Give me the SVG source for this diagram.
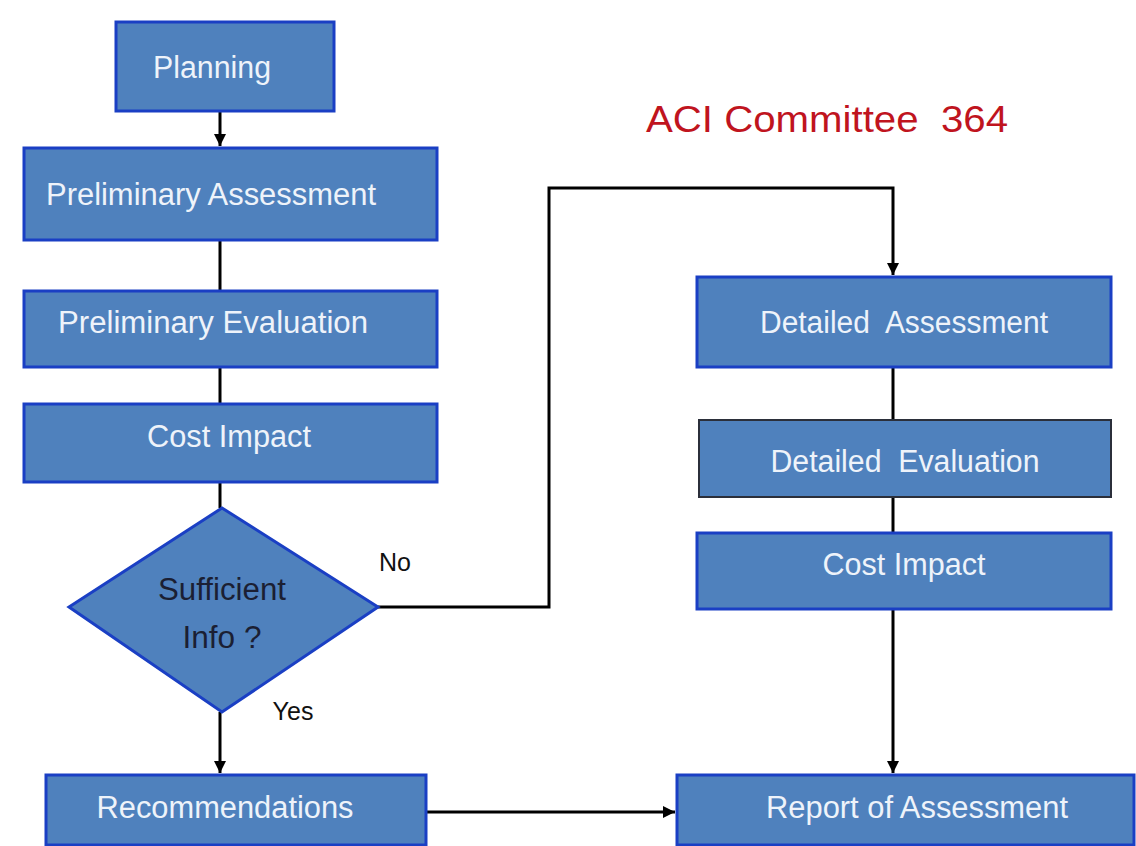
<svg xmlns="http://www.w3.org/2000/svg" width="1136" height="846" viewBox="0 0 1136 846">
<defs>
<marker id="ah" viewBox="0 0 10 10" refX="10" refY="5" markerWidth="4" markerHeight="4" orient="auto" markerUnits="strokeWidth">
<path d="M0,0 L10,5 L0,10 z" fill="#000"/>
</marker>
<style>
text{white-space:pre}
.box{fill:#4f81bd;stroke:#1a3fc4;stroke-width:3}
.boxd{fill:#4f81bd;stroke:#2b2f3a;stroke-width:2}
.t{font-family:"Liberation Sans Narrow","Liberation Sans",Arial,sans-serif;font-size:31px;fill:#eef3fa;text-anchor:middle}
.td{font-family:"Liberation Sans Narrow","Liberation Sans",Arial,sans-serif;font-size:31px;fill:#1b1f33;text-anchor:middle}
.lbl{font-family:"Liberation Sans Narrow","Liberation Sans",Arial,sans-serif;font-size:25px;fill:#111;text-anchor:middle}
.c{fill:none;stroke:#000;stroke-width:3}
.title{font-family:"Liberation Sans",Arial,sans-serif;font-size:36px;fill:#c0141e;text-anchor:middle}
</style>
</defs>
<rect width="1136" height="846" fill="#fff"/>
<text class="title" x="827" y="132" textLength="362" lengthAdjust="spacingAndGlyphs">ACI Committee  364</text>
<g id="connectors">
<path class="c" d="M220,111 V146" marker-end="url(#ah)"/>
<path class="c" d="M220,240 V291"/>
<path class="c" d="M220,367 V404"/>
<path class="c" d="M220,482 V508"/>
<path class="c" d="M220,712 V773" marker-end="url(#ah)"/>
<path class="c" d="M426,812 H675" marker-end="url(#ah)"/>
<path class="c" d="M378,607 H549 V188 H893 V275" marker-end="url(#ah)"/>
<path class="c" d="M893,367 V420"/>
<path class="c" d="M893,497 V533"/>
<path class="c" d="M893,609 V773" marker-end="url(#ah)"/>
</g>
<g id="planning"><rect class="box" x="116" y="22" width="218" height="89"/><text class="t" x="212" y="78" textLength="118" lengthAdjust="spacingAndGlyphs">Planning</text></g>
<g id="prelim-assessment"><rect class="box" x="24" y="148" width="413" height="92"/><text class="t" x="211" y="205" textLength="330" lengthAdjust="spacingAndGlyphs">Preliminary Assessment</text></g>
<g id="prelim-evaluation"><rect class="box" x="24" y="291" width="413" height="76"/><text class="t" x="213" y="333" textLength="310" lengthAdjust="spacingAndGlyphs">Preliminary Evaluation</text></g>
<g id="cost-impact-left"><rect class="box" x="24" y="404" width="413" height="78"/><text class="t" x="229" y="447" textLength="164" lengthAdjust="spacingAndGlyphs">Cost Impact</text></g>
<g id="decision"><polygon class="box" points="222,508 378,607 222,712 69,607"/><text class="td" x="222" y="600" textLength="128" lengthAdjust="spacingAndGlyphs">Sufficient</text><text class="td" x="222" y="648" textLength="79" lengthAdjust="spacingAndGlyphs">Info ?</text></g>
<text class="lbl" x="395" y="571">No</text>
<text class="lbl" x="293" y="720">Yes</text>
<g id="recommendations"><rect class="box" x="46" y="775" width="380" height="70"/><text class="t" x="225" y="818" textLength="257" lengthAdjust="spacingAndGlyphs">Recommendations</text></g>
<g id="report"><rect class="box" x="677" y="775" width="457" height="70"/><text class="t" x="917" y="818" textLength="302" lengthAdjust="spacingAndGlyphs">Report of Assessment</text></g>
<g id="detailed-assessment"><rect class="box" x="697" y="277" width="414" height="90"/><text class="t" x="904" y="333" textLength="288" lengthAdjust="spacingAndGlyphs">Detailed  Assessment</text></g>
<g id="detailed-evaluation"><rect class="boxd" x="699" y="420" width="412" height="77"/><text class="t" x="905" y="472" textLength="269" lengthAdjust="spacingAndGlyphs">Detailed  Evaluation</text></g>
<g id="cost-impact-right"><rect class="box" x="697" y="533" width="414" height="76"/><text class="t" x="904" y="575" textLength="163" lengthAdjust="spacingAndGlyphs">Cost Impact</text></g>
</svg>
